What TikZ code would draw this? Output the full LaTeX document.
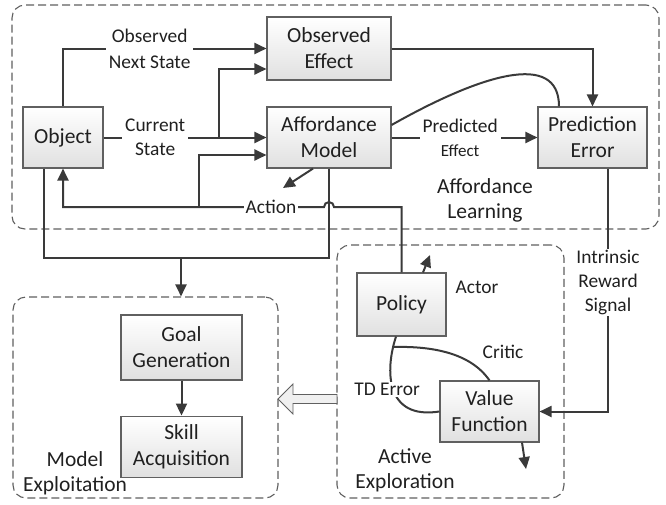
\documentclass[tikz,border=0pt]{standalone}
\usepackage{fontspec}
\setmainfont{Carlito}
\usetikzlibrary{positioning,arrows.meta}
\definecolor{lncol}{HTML}{3A3A3A}
\definecolor{boxcol}{HTML}{606060}
\definecolor{txtcol}{HTML}{202020}

\begin{document}
\begin{tikzpicture}[x=1pt,y=-1pt,
box/.style={draw=boxcol,line width=1.1pt,top color=white,bottom color=black!12,text=txtcol,align=center,font=\fontsize{21.5}{26}\selectfont,inner sep=0pt},
region/.style={draw=boxcol,line width=1.1pt,dash pattern=on 8pt off 4pt,rounded corners=13pt,inner sep=0pt},
lbl/.style={fill=white,text=txtcol,align=center,font=\fontsize{19.4}{24}\selectfont,inner xsep=3pt,inner ysep=1pt},
title/.style={text=txtcol,align=center,font=\fontsize{21.5}{25}\selectfont},
conn/.style={draw=lncol,line width=2pt,-{Triangle[length=12pt,width=11pt]}},
wire/.style={draw=lncol,line width=2pt}]
\useasboundingbox (0,0) rectangle (666,504);

\node (learn) [region,minimum width=647pt,minimum height=224pt] at (335.5,117) {};
\node (explore) [region,minimum width=227pt,minimum height=253pt] at (450.5,371.5) {};
\node (exploit) [region,minimum width=265pt,minimum height=201pt] at (145.5,397.5) {};
\draw[draw=boxcol,fill=black!6,line width=0.9pt] (278,399) -- (293,384) -- (293,394.5) -- (337,394.5) -- (337,403.5) -- (293,403.5) -- (293,414) -- cycle;

\node (obj) [box,minimum width=80pt,minimum height=61pt] at (63,137.5) {Object};
\node (obseff) [box,minimum width=124pt,minimum height=63pt] at (329,48.5) {Observed\\Effect};
\node (affmod) [box,minimum width=124pt,minimum height=61pt] at (329,137.5) {Affordance\\Model};
\node (prederr) [box,minimum width=109pt,minimum height=61pt] at (592.5,137.5) {Prediction\\Error};
\node (policy) [box,minimum width=89pt,minimum height=63pt] at (401.5,304.5) {Policy};
\node (valfn) [box,minimum width=99pt,minimum height=61pt] at (489.5,411.5) {Value\\Function};
\node (goal) [box,minimum width=121pt,minimum height=65pt] at (181.5,347.5) {Goal\\Generation};
\node (skill) [box,minimum width=121pt,minimum height=61pt,below=35pt of goal] {Skill\\Acquisition};

\node (learntxt) [title] at (485,200) {Affordance\\Learning};
\node (exploretxt) [title] at (405,470) {Active\\Exploration};
\node (exploittxt) [title] at (75,473) {Model\\Exploitation};
\node (actor) [lbl,fill=none] at (477,287) {Actor};
\node (critic) [lbl,fill=none] at (503,352) {Critic};

\coordinate (cs) at (219,137.5);
\coordinate (act) at (401.5,207);
\coordinate (ac) at (199,207);
\coordinate (actout) at (283,188);
\coordinate (merge) at (181,258);
\coordinate (polout) at (430,255);
\coordinate (vfout) at (526,469);
\coordinate (tdj) at (393,347);

\draw[conn] (obj.north) |- node[lbl,pos=0.713] {Observed\\[2pt]Next State} (obseff.west);
\draw[conn] (obj.east) -- node[lbl,pos=0.317] {Current\\State} (affmod.west);
\draw[conn] (cs) |- ([yshift=-20.5pt]obseff.west);
\draw[conn] (ac) |- ([yshift=-17.5pt]affmod.west);
\draw[conn] ([xshift=-16pt]affmod.south) -- (actout);
\draw[conn] (policy.north) -- (act) -- (334,207) arc[start angle=0,end angle=180,radius=5pt]
    -- node[lbl,pos=0.203,inner xsep=2pt] {Action} (obj.south |- act) -- (obj.south);
\draw[wire] ([yshift=12.5pt]affmod.east) .. controls (480,75) and (559,50) .. ([xshift=-33.5pt]prederr.north);
\draw[conn] (obseff.east) -| (prederr.north);
\draw[conn] (affmod.east) -- node[lbl,pos=0.47] {Predicted\\{\fontsize{17}{20}\selectfont Effect}} (prederr.west);
\draw[wire] ([xshift=-19pt]obj.south) |- (merge);
\draw[wire] (affmod.south) |- (merge);
\draw[conn] (merge) -- (merge |- exploit.north);
\draw[conn] ([xshift=15.5pt]prederr.south) |- node[lbl,pos=0.234] {Intrinsic\\Reward\\Signal} (valfn.east);
\draw[conn] ([xshift=21.5pt]policy.north) -- (polout);
\draw[conn] ([xshift=32.5pt]valfn.south) -- (vfout);
\draw[wire] (valfn.north) .. controls (470,352) and (430,346) .. (tdj);
\draw[wire] (valfn.west) .. controls (385,420) and (385,370) .. node[lbl,pos=0.5,xshift=-6pt] {TD Error} ([xshift=-5.5pt]policy.south);
\draw[conn] (goal) -- (skill);
\end{tikzpicture}
\end{document}
